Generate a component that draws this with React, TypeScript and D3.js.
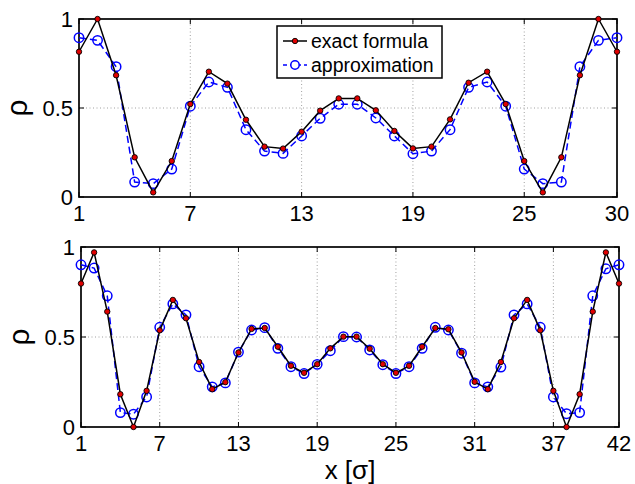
import React from "react";
import * as d3 from "d3";

const topX = d3.range(1, 31);
const topExact = [0.816, 1.0, 0.684, 0.223, 0.026, 0.202, 0.522, 0.704, 0.637, 0.434, 0.283, 0.272, 0.367, 0.485, 0.554,
  0.554, 0.487, 0.371, 0.273, 0.283, 0.436, 0.642, 0.704, 0.522, 0.202, 0.026, 0.223, 0.684, 1.0, 0.816];
const topApprox = [0.895, 0.88, 0.732, 0.084, 0.075, 0.157, 0.51, 0.646, 0.616, 0.378, 0.258, 0.245, 0.343, 0.442, 0.521,
  0.521, 0.444, 0.343, 0.243, 0.258, 0.378, 0.616, 0.646, 0.51, 0.157, 0.075, 0.084, 0.732, 0.88, 0.895];

const botX = d3.range(1, 43);
const botExact = [0.797, 0.97, 0.641, 0.182, 0.0, 0.201, 0.537, 0.706, 0.604, 0.361, 0.21, 0.249, 0.414, 0.545, 0.55,
  0.446, 0.34, 0.301, 0.349, 0.437, 0.502, 0.502, 0.435, 0.349, 0.301, 0.34, 0.446, 0.55, 0.543, 0.414, 0.251,
  0.21, 0.361, 0.604, 0.706, 0.537, 0.201, 0.0, 0.182, 0.641, 0.97, 0.797];
const botApprox = [0.901, 0.883, 0.729, 0.08, 0.071, 0.167, 0.554, 0.684, 0.623, 0.335, 0.223, 0.245, 0.416, 0.539, 0.552,
  0.437, 0.335, 0.297, 0.348, 0.424, 0.502, 0.5, 0.428, 0.346, 0.297, 0.335, 0.437, 0.554, 0.539, 0.41, 0.245,
  0.223, 0.333, 0.623, 0.684, 0.554, 0.167, 0.074, 0.08, 0.729, 0.879, 0.901];

const topTicks = [1, 7, 13, 19, 25, 30];
const botTicks = [1, 7, 13, 19, 25, 31, 37, 42];
const yTicks = [0, 0.5, 1];
const yTickLabels = ["0", "0.5", "1"];
const legendLabels = ["exact formula", "approximation"];

const FONT = "Liberation Sans, Arial, Helvetica, sans-serif";

type PanelProps = {
  xs: number[];
  exact: number[];
  approx: number[];
  ticks: number[];
  xDomain: [number, number];
  xRange: [number, number];
  yRange: [number, number];
  legend?: boolean;
};

function Panel({ xs, exact, approx, ticks, xDomain, xRange, yRange, legend }: PanelProps) {
  const x = d3.scaleLinear().domain(xDomain).range(xRange);
  const y = d3.scaleLinear().domain([0, 1]).range(yRange);
  const line = d3
    .line<number>()
    .x((_, i) => x(xs[i]))
    .y((d) => y(d));
  const [x0, x1] = xRange;
  const [yb, yt] = yRange;
  const inner = ticks.filter((t) => t !== xDomain[0] && t !== xDomain[1]);
  return (
    <g>
      {inner.map((t) => (
        <line key={"gx" + t} x1={x(t)} x2={x(t)} y1={yb} y2={yt} stroke="#888" strokeWidth={0.8} strokeDasharray="1,2.5" />
      ))}
      <line x1={x0} x2={x1} y1={y(0.5)} y2={y(0.5)} stroke="#888" strokeWidth={0.8} strokeDasharray="1,2.5" />
      {ticks.map((t) => (
        <g key={"t" + t}>
          <line x1={x(t)} x2={x(t)} y1={yb} y2={yb - 5} stroke="#000" strokeWidth={1} />
          <line x1={x(t)} x2={x(t)} y1={yt} y2={yt + 5} stroke="#000" strokeWidth={1} />
        </g>
      ))}
      {yTicks.map((t) => (
        <g key={"yt" + t}>
          <line x1={x0} x2={x0 + 5} y1={y(t)} y2={y(t)} stroke="#000" strokeWidth={1} />
          <line x1={x1} x2={x1 - 5} y1={y(t)} y2={y(t)} stroke="#000" strokeWidth={1} />
        </g>
      ))}
      <rect x={x0} y={yt} width={x1 - x0} height={yb - yt} fill="none" stroke="#000" strokeWidth={1.7} />
      {ticks.map((t) => (
        <text key={"xl" + t} x={x(t)} y={yb + 24} textAnchor="middle" fontSize={22} fontFamily={FONT}>
          {t}
        </text>
      ))}
      {yTicks.map((t, i) => (
        <text key={"yl" + t} x={x0 - 6} y={y(t) + 8} textAnchor="end" fontSize={22} fontFamily={FONT}>
          {yTickLabels[i]}
        </text>
      ))}
      <text
        transform={`translate(${x0 - 52},${y(0.5)}) rotate(-90)`}
        textAnchor="middle"
        fontSize={30}
        fontFamily={FONT}
      >
        ρ
      </text>
      <path d={line(approx) || ""} fill="none" stroke="#0000ff" strokeWidth={1.5} strokeDasharray="7,4" />
      {approx.map((v, i) => (
        <circle key={"a" + i} cx={x(xs[i])} cy={y(v)} r={4.7} fill="none" stroke="#0000ff" strokeWidth={1.5} />
      ))}
      <path d={line(exact) || ""} fill="none" stroke="#000" strokeWidth={1.5} />
      {exact.map((v, i) => (
        <circle key={"e" + i} cx={x(xs[i])} cy={y(v)} r={2.7} fill="#e00000" stroke="#000" strokeWidth={0.9} />
      ))}
      {legend && (
        <g>
          <rect x={277} y={26} width={165} height={52} fill="#fff" stroke="#000" strokeWidth={1.5} />
          <line x1={283} x2={307} y1={41} y2={41} stroke="#000" strokeWidth={1.5} />
          <circle cx={295} cy={41} r={2.7} fill="#e00000" stroke="#000" strokeWidth={0.9} />
          <line x1={283} x2={307} y1={65} y2={65} stroke="#0000ff" strokeWidth={1.5} strokeDasharray="4,3" />
          <circle cx={295} cy={65} r={4.2} fill="#fff" stroke="#0000ff" strokeWidth={1.5} />
          <text x={311} y={48} fontSize={19.5} fontFamily={FONT}>
            {legendLabels[0]}
          </text>
          <text x={311} y={72} fontSize={19.5} fontFamily={FONT}>
            {legendLabels[1]}
          </text>
        </g>
      )}
    </g>
  );
}

export default function App() {
  return (
    <svg width={635} height={484} style={{ position: "absolute", left: 0, top: 0, background: "#fff" }}>
      <rect width={635} height={484} fill="#fff" />
      <Panel
        xs={topX}
        exact={topExact}
        approx={topApprox}
        ticks={topTicks}
        xDomain={[1, 30]}
        xRange={[79, 617]}
        yRange={[197, 19]}
        legend
      />
      <Panel
        xs={botX}
        exact={botExact}
        approx={botApprox}
        ticks={botTicks}
        xDomain={[1, 42]}
        xRange={[81, 619]}
        yRange={[427, 247]}
      />
      <text x={350} y={479} textAnchor="middle" fontSize={26} fontFamily={FONT}>
        x [σ]
      </text>
    </svg>
  );
}
